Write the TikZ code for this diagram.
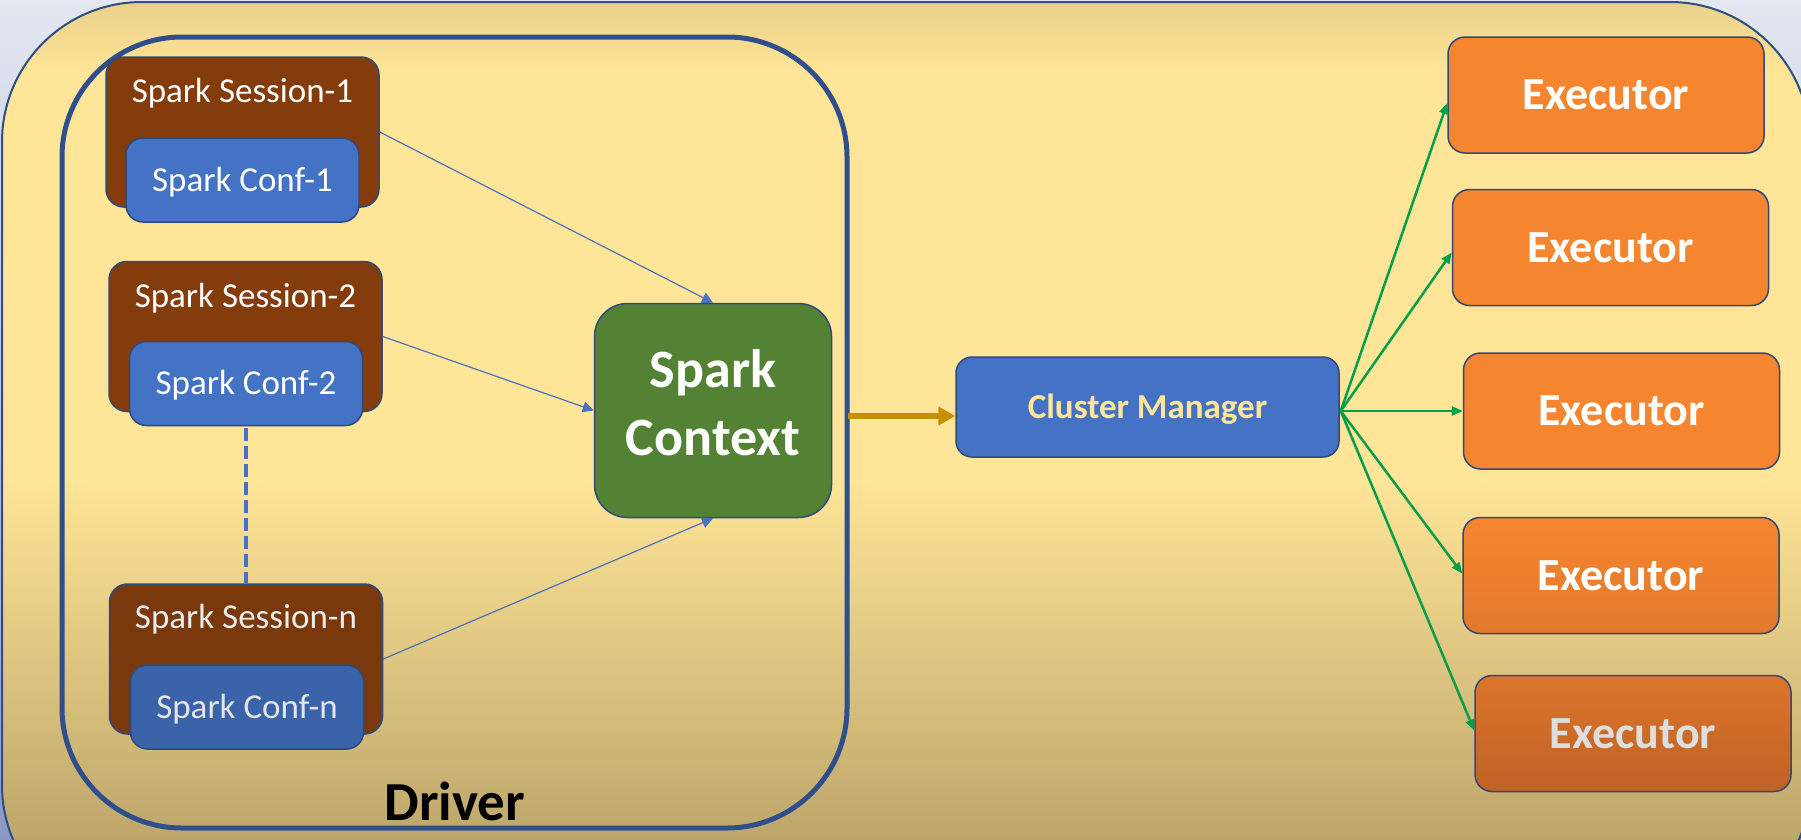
\documentclass[tikz,border=0pt]{standalone}
\usepackage{fontspec}
\setmainfont{Carlito}
\usetikzlibrary{arrows.meta,calc}
\definecolor{bgtop}{HTML}{E3E7F0}
\definecolor{bgbot}{HTML}{8A9AC6}
\definecolor{tantop}{HTML}{E9D089}
\definecolor{tanmid}{HTML}{FFE597}
\definecolor{tanbot}{HTML}{BDA66B}
\definecolor{framec}{HTML}{2E4F86}
\definecolor{driverc}{HTML}{2F4E8C}
\definecolor{edgec}{HTML}{2F4A7A}
\definecolor{brownA}{HTML}{843C0C}
\definecolor{brownB}{HTML}{7A390C}
\definecolor{confA}{HTML}{4472C4}
\definecolor{confB}{HTML}{3A63AA}
\definecolor{scgreen}{HTML}{548235}
\definecolor{execA}{HTML}{F6852F}
\definecolor{execB}{HTML}{E27A2D}
\definecolor{execC}{HTML}{CF6A28}
\definecolor{cmtext}{HTML}{FFE699}
\definecolor{goldarrow}{HTML}{C68F00}
\definecolor{greenarrow}{HTML}{00A04A}
\definecolor{thinblue}{HTML}{4A72BE}
\begin{document}
\begin{tikzpicture}[x=1pt,y=-1pt,
  sessbox/.style={draw=edgec, line width=1.5pt, fill=brownA, rounded corners=18pt,
    minimum width=273pt, minimum height=150pt, inner sep=0pt},
  confbox/.style={draw=edgec, line width=1.5pt, fill=confA, rounded corners=17pt,
    minimum width=233pt, minimum height=84pt, inner sep=0pt, text=white,
    font=\fontsize{35}{42}\selectfont, text height=22.5pt, text depth=0pt},
  sesslabel/.style={anchor=base, inner sep=0pt, text=white, font=\fontsize{35}{42}\selectfont},
  execbox/.style={draw=edgec, line width=1.5pt, fill=execA, rounded corners=17pt,
    minimum width=316pt, minimum height=116pt, inner sep=0pt, text=white,
    font=\bfseries\fontsize{46}{55}\selectfont, text height=29.6pt, text depth=0pt},
  thinarrow/.style={draw=thinblue, line width=1.2pt, -{Triangle[length=11pt,width=11pt]}},
  greenarr/.style={draw=greenarrow, line width=2.5pt, -{Triangle[length=11pt,width=9pt]}}
]
\useasboundingbox (0,0) rectangle (1801,839);
% background outside the frame
\shade[top color=bgtop, bottom color=bgbot] (0,0) rectangle (1801,839);
% frame fill
\begin{scope}
  \clip[rounded corners=140pt] (2,2) rectangle (1810,925);
  \shade[top color=tantop, bottom color=tanmid] (0,0) rectangle (1801,72);
  \fill[tanmid] (0,70) rectangle (1801,482);
  \shade[top color=tanmid, bottom color=tanbot] (0,480) rectangle (1801,840);
\end{scope}
\draw[framec, line width=2pt, rounded corners=140pt] (2,2) rectangle (1810,925);

% Driver
\node[draw=driverc, line width=5pt, rounded corners=120pt, minimum width=785pt,
  minimum height=791pt, inner sep=0pt] (driver) at (454.5,432.5) {};
\node[anchor=base, inner sep=0pt, font=\bfseries\fontsize{55}{60}\selectfont] (drvlabel) at (455,820) {Driver};

% Sessions
\node[sessbox] (s1) at (242.5,132) {};
\node[sesslabel] (s1t) at (242.5,102) {Spark Session-1};
\node[confbox] (c1) at (242.5,180) {Spark Conf-1};

\node[sessbox] (s2) at (245.5,336.5) {};
\node[sesslabel] (s2t) at (245.5,307) {Spark Session-2};
\node[confbox] (c2) at (246,383.5) {Spark Conf-2};

\node[sessbox, fill=brownB] (sn) at (246,659) {};
\node[sesslabel, text=white!93!black] (snt) at (246,628) {Spark Session-n};
\node[confbox, fill=confB, text=white!90!black] (cn) at (247,707) {Spark Conf-n};

\draw[confA, line width=3.5pt, dash pattern=on 13pt off 5pt] (c2.south) ++(0,2) coordinate (dtop) -- (dtop |- sn.north) ;

% Spark Context
\node[draw=edgec, line width=1.5pt, fill=scgreen, rounded corners=33pt,
  minimum width=237pt, minimum height=214pt, inner sep=0pt] (sc) at (713,410.5) {};
\node[align=center, inner sep=0pt, text=white,
  font=\bfseries\fontsize{54}{68}\selectfont] (sctext) at (713,403) {Spark\\Context};

\draw[thinarrow] (s1.east) -- (sc.north);
\draw[thinarrow] (s2.east) -- (sc.west);
\draw[thinarrow] (sn.east) -- (sc.south);

% Cluster Manager
\node[draw=edgec, line width=1.5pt, fill=confA, rounded corners=16pt,
  minimum width=383pt, minimum height=100pt, inner sep=0pt, text=cmtext,
  font=\bfseries\fontsize{35}{42}\selectfont, text height=22.5pt, text depth=0pt] (cm) at (1147.5,407) {Cluster Manager};

\coordinate (oa) at (848,416);
\draw[goldarrow, line width=6pt, -{Triangle[length=17pt,width=18pt]}] (oa) -- (oa -| cm.west);

% Executors
\node[execbox] (e1) at (1606,95) {Executor};
\node[execbox] (e2) at (1610.5,247.5) {Executor};
\node[execbox] (e3) at (1621.5,411) {Executor};
\node[execbox, top color=execA, bottom color=execB] (e4) at (1621,575.5) {Executor};
\node[execbox, top color=execB!70!execC, bottom color=execC!92!black, text=white!87!black] (e5) at (1633,733.5) {Executor};

\coordinate (gsrc) at ($(cm.east)+(1,4)$);
\draw[greenarr] (gsrc) -- ($(e1.west)+(0,8)$);
\draw[greenarr] (gsrc) -- ($(e2.west)+(0,5)$);
\draw[greenarr] (gsrc) -- (e3.west);
\draw[greenarr] (gsrc) -- ($(e4.west)+(0,-2)$);
\draw[greenarr] (gsrc) -- ($(e5.west)+(0,-3)$);
\end{tikzpicture}
\end{document}
